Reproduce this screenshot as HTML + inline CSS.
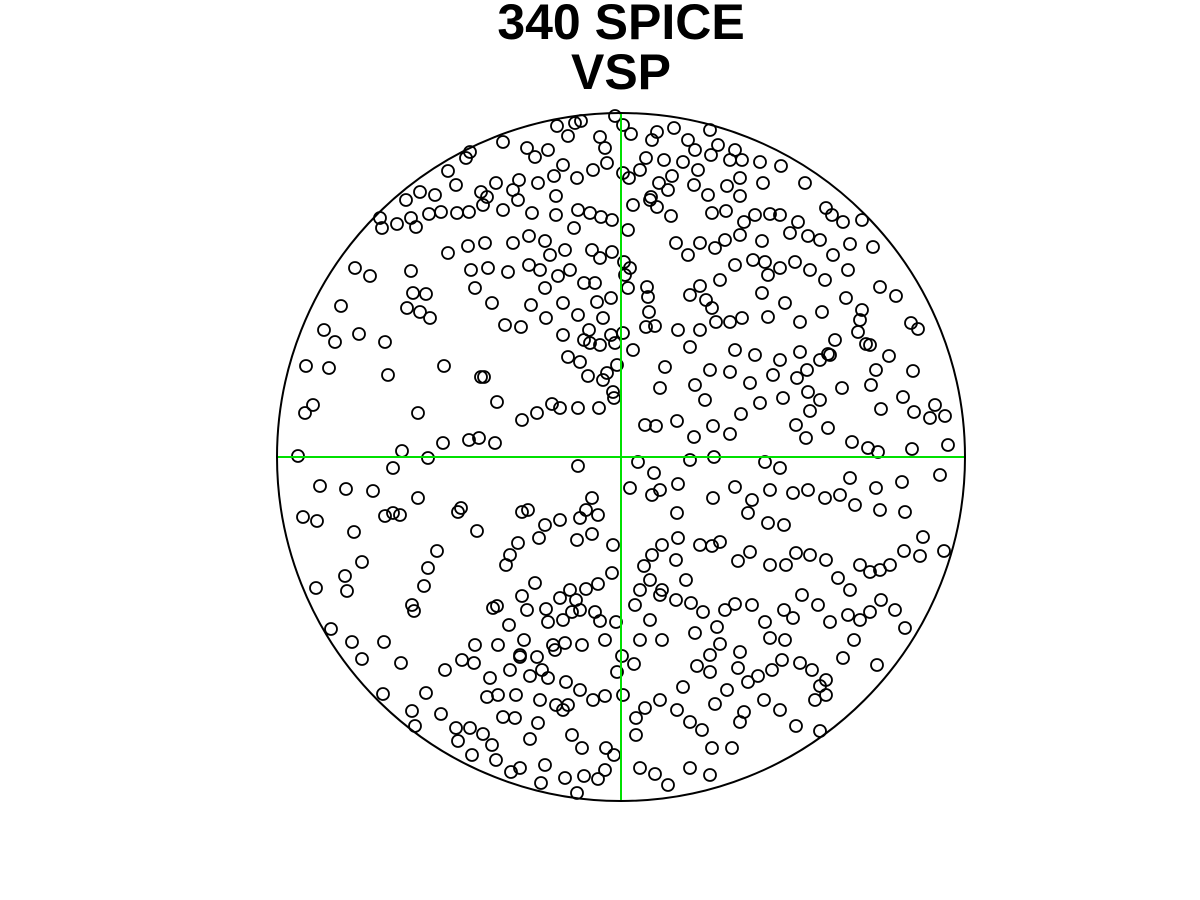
<!DOCTYPE html>
<html>
<head>
<meta charset="utf-8">
<style>
html,body{margin:0;padding:0;background:#fff;}
svg{display:block;}
</style>
</head>
<body>
<svg id="chart" width="1200" height="900" viewBox="0 0 1200 900" xmlns="http://www.w3.org/2000/svg">
  <rect width="1200" height="900" fill="#fff"/>
  <text x="621" y="39" text-anchor="middle" font-family="Liberation Sans, sans-serif" font-weight="bold" font-size="50">340 SPICE</text>
  <text x="621" y="89" text-anchor="middle" font-family="Liberation Sans, sans-serif" font-weight="bold" font-size="50">VSP</text>
  <g id="points"></g>
  <line x1="277" y1="457" x2="965" y2="457" stroke="#00e000" stroke-width="2"/>
  <line x1="621" y1="113" x2="621" y2="801" stroke="#00e000" stroke-width="2"/>
  <circle cx="621" cy="457" r="344" fill="none" stroke="#000" stroke-width="2"/>
</svg>
<script>
// Data coordinates (projection units): x domain [277,965], y domain [113,801] (downward)
const xs = [615,557,581,575,568,503,527,535,548,600,605,623,631,657,652,674,688,710,718,735,742,760,781,805,730,711,695,683,664,646,640,629,623,607,593,577,563,554,538,519,513,496,481,466,470,448,456,435,420,406,411,380,382,397,416,429,441,457,469,483,487,503,518,532,556,556,578,574,590,601,612,628,633,651,657,671,668,694,708,712,726,744,755,770,780,798,826,832,843,850,862,873,880,896,911,918,862,858,866,889,876,871,913,903,881,914,935,930,945,948,912,878,868,852,828,806,796,810,783,760,741,730,713,694,677,656,645,
355,370,341,324,335,329,306,305,313,359,385,388,418,444,443,469,481,484,497,479,495,522,537,552,560,578,599,614,580,568,584,589,600,607,603,617,615,633,646,655,649,648,647,628,625,611,597,595,584,570,558,545,540,529,508,492,488,471,448,468,485,513,529,545,550,565,592,600,612,624,603,578,563,546,531,521,505,475,430,420,407,413,426,411,563,590,611,623,588,613,630,676,688,700,715,725,740,762,790,808,820,833,848,825,810,795,780,765,753,735,720,700,690,706,712,700,716,730,742,768,785,800,822,846,828,807,797,808,820,842,773,750,730,710,695,705,690,665,660,678,768,762,735,755,780,800,820,830,870,860,835,650,659,672,698,740,763,740,727,
298,320,303,317,346,373,362,354,316,331,345,347,352,362,384,383,401,412,415,426,441,456,458,470,472,492,483,496,511,520,545,541,565,577,584,598,605,614,606,582,572,563,538,530,515,503,498,487,474,462,445,475,497,522,527,546,548,560,570,576,586,598,612,580,595,605,582,565,553,537,524,509,498,490,510,530,548,566,580,593,605,623,617,622,616,600,572,563,555,542,516,540,556,568,520,506,510,518,522,528,545,539,560,580,592,586,598,592,613,577,578,493,458,461,477,437,428,424,412,414,400,393,385,393,402,428,418,520,535,
630,638,652,660,677,654,678,690,714,735,713,748,752,768,784,770,780,765,793,808,825,840,850,855,876,880,902,905,940,944,923,920,904,890,880,870,860,850,838,826,810,796,786,770,750,738,720,712,700,678,662,652,644,650,662,676,691,703,717,735,752,765,784,802,818,830,848,860,870,881,895,905,877,854,843,826,815,820,796,780,764,744,740,732,712,710,690,668,655,640,636,636,645,660,677,690,702,715,727,738,748,758,772,782,800,812,820,826,662,640,634,650,635,640,660,676,686,695,710,720,740,683,697,710,725,770,785,793];
const ys = [116,126,121,123,136,142,148,157,150,137,148,125,134,132,140,128,140,130,145,150,160,162,166,183,160,155,150,162,160,158,170,178,173,163,170,178,165,176,183,180,190,183,192,158,152,171,185,195,192,200,218,218,228,224,227,214,212,213,212,205,197,210,200,213,196,215,210,228,213,217,220,230,205,197,207,216,190,185,195,213,211,222,215,214,215,222,208,215,222,244,220,247,287,296,323,329,310,332,344,356,370,385,371,397,409,412,405,418,416,445,449,452,448,442,428,438,425,411,398,403,414,434,426,437,421,426,425,
268,276,306,330,342,368,366,413,405,334,342,375,413,366,443,440,377,377,402,438,443,420,413,404,408,408,408,398,362,357,340,330,345,373,380,365,343,350,327,326,312,297,287,288,275,298,302,283,283,270,276,288,270,265,272,303,268,270,253,246,243,243,236,241,255,250,250,258,252,262,318,315,303,318,305,327,325,288,318,312,308,293,294,271,335,343,335,333,376,392,268,243,255,243,248,240,235,241,233,236,240,255,270,280,270,262,268,262,260,265,280,286,295,300,308,330,322,322,318,317,303,322,312,298,354,370,378,392,400,388,375,383,372,370,385,400,347,367,388,330,275,293,350,355,360,352,360,355,345,320,340,200,183,176,170,196,183,178,186,
456,486,517,521,489,491,562,532,588,629,576,591,642,659,642,694,663,711,726,693,714,728,741,728,755,745,734,760,772,768,765,783,778,793,776,779,770,755,748,748,735,710,723,739,718,717,695,697,663,660,670,645,606,596,610,609,622,598,590,600,589,584,573,610,612,640,645,643,645,657,640,625,645,678,670,676,678,682,690,700,696,695,672,656,622,621,612,620,650,670,695,700,705,705,657,565,555,543,512,510,525,538,520,518,498,510,515,534,545,540,466,608,512,508,531,551,568,586,605,611,515,513,516,468,451,458,498,655,583,
488,462,495,490,513,473,484,460,457,487,498,513,500,523,525,490,468,462,493,490,498,495,478,505,488,510,482,512,475,551,537,556,551,565,570,572,565,590,578,560,555,553,565,565,552,561,542,546,545,538,545,555,566,580,590,600,603,612,627,604,605,622,610,595,605,622,615,620,612,600,610,628,665,640,658,680,700,731,726,710,700,712,722,748,748,775,768,785,774,768,735,718,708,700,710,722,730,704,690,668,682,676,670,660,663,670,686,695,640,640,664,620,605,590,595,560,580,633,655,644,652,687,666,672,610,638,640,618];

const plotLeft = 277, plotTop = 113, plotSize = 688;
const xMin = 277, xMax = 965, yMin = 113, yMax = 801;
function xScale(v){ return plotLeft + (v - xMin) / (xMax - xMin) * plotSize; }
function yScale(v){ return plotTop + (v - yMin) / (yMax - yMin) * plotSize; }

const g = document.getElementById('points');
const n = Math.min(xs.length, ys.length);
for (let i = 0; i < n; i++) {
  const c = document.createElementNS('http://www.w3.org/2000/svg', 'circle');
  c.setAttribute('cx', xScale(xs[i]));
  c.setAttribute('cy', yScale(ys[i]));
  c.setAttribute('r', 6);
  c.setAttribute('fill', 'none');
  c.setAttribute('stroke', '#000');
  c.setAttribute('stroke-width', 1.8);
  
  
  g.appendChild(c);
}
</script>
</body>
</html>
